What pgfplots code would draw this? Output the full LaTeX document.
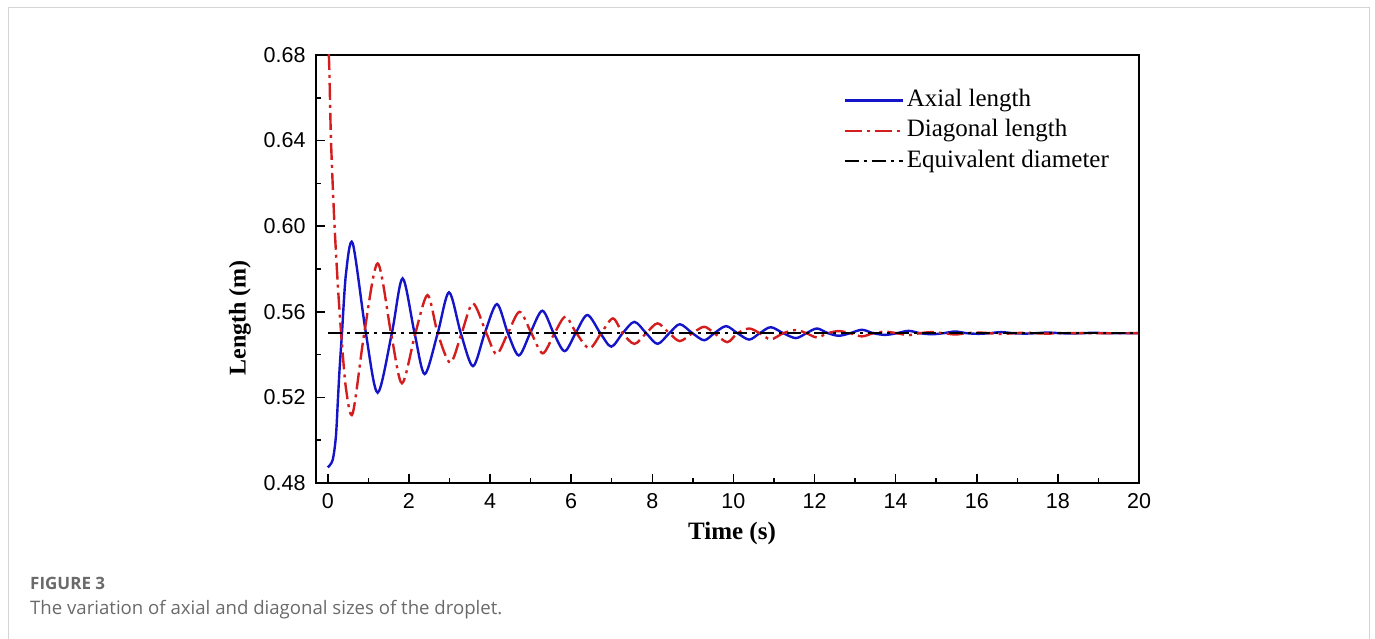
\documentclass[border=0pt]{standalone}
\usepackage{pgfplots}
\pgfplotsset{compat=1.18}
\usepackage{fontspec}
\setmainfont{Liberation Serif}
\newfontfamily\arial{Liberation Sans}
\newfontfamily\capfont{Open Sans}
\definecolor{cblue}{HTML}{1414C8}
\definecolor{cred}{HTML}{D41E1E}
\definecolor{capgray}{HTML}{6A6A6A}
\definecolor{framegray}{HTML}{D4D4D4}
\begin{document}
\begin{tikzpicture}[x=1pt,y=1pt]
\useasboundingbox (0,0) rectangle (1375,639);
\draw[framegray,line width=1pt] (8,-5) -- (8,631) -- (1369,631) -- (1369,-5);
\begin{axis}[
  at={(316pt,156pt)}, anchor=south west,
  scale only axis, width=823pt, height=428pt,
  xmin=-0.29, xmax=20, ymin=0.48, ymax=0.68,
  xtick={0,2,4,6,8,10,12,14,16,18,20},
  ytick={0.48,0.52,0.56,0.60,0.64,0.68},
  minor x tick num=1, minor y tick num=1,
  tick align=inside, xtick pos=bottom, ytick pos=left,
  major tick length=9pt, minor tick length=5pt,
  every tick/.style={black, line width=1.5pt},
  axis line style={line width=1.8pt},
  tick label style={font=\arial\fontsize{21.5}{25}\selectfont},
  xticklabel style={yshift=-7pt},
  yticklabel style={xshift=-7pt, /pgf/number format/fixed, /pgf/number format/precision=2, /pgf/number format/fixed zerofill},
  /pgf/number format/assume math mode=true,
  scaled y ticks=false,
  legend style={at={(rel axis cs:0.637,0.927)}, anchor=north west, draw=none, fill=none,
    font=\fontsize{25}{30}\selectfont, row sep=6.5pt,
    nodes={inner ysep=0pt, inner xsep=3pt, text height=18pt, text depth=6pt}},
  legend cell align=left,
  legend image code/.code={\draw[#1] (0pt,0pt) -- (58pt,0pt);},
]
\addplot[cblue, line width=2.4pt, smooth] coordinates {
(0,0.4873) (0.12,0.4907) (0.2,0.5016) (0.25,0.5188) (0.29,0.5328) (0.35,0.55) (0.45,0.578) (0.615,0.592) (0.94,0.55) (1.23,0.5222) (1.58,0.55) (1.845,0.5756) (2.14,0.55) (2.39,0.5309) (2.71,0.55) (2.99,0.5691) (3.28,0.55) (3.58,0.5346) (3.87,0.55) (4.17,0.5636) (4.44,0.55) (4.71,0.5396) (4.99,0.55) (5.29,0.5605) (5.57,0.55) (5.84,0.5416) (6.11,0.55) (6.40,0.5585) (6.72,0.55) (6.99,0.5437) (7.27,0.55) (7.56,0.5553) (7.85,0.55) (8.13,0.545) (8.42,0.55) (8.68,0.5542) (8.99,0.55) (9.28,0.5467) (9.53,0.55) (9.82,0.5533) (10.1,0.55) (10.39,0.547) (10.65,0.55) (10.92,0.5528) (11.23,0.55) (11.54,0.5477) (11.8,0.55) (12.06,0.5522) (12.33,0.55) (12.6,0.5488) (12.88,0.55) (13.17,0.5516) (13.45,0.55) (13.74,0.5492) (14.03,0.55) (14.32,0.5511) (14.6,0.55) (14.89,0.5495) (15.18,0.55) (15.47,0.5508) (15.75,0.55) (16.04,0.5497) (16.32,0.55) (16.6,0.5505) (16.9,0.55) (17.2,0.5498) (17.45,0.55) (17.75,0.5503) (18.05,0.55) (18.3,0.5499) (18.6,0.55) (18.9,0.5502) (19.2,0.55) (20,0.55)
};
\addlegendentry{Axial length}
\addplot[cred, line width=2.4pt, smooth, dash pattern=on 17pt off 5pt on 3pt off 5pt] coordinates {
(0,0.695) (0.04,0.672) (0.08,0.64) (0.16,0.603) (0.25,0.572) (0.33,0.55) (0.45,0.524) (0.615,0.5125) (0.9,0.55) (1.23,0.5826) (1.56,0.55) (1.83,0.5266) (2.16,0.55) (2.46,0.5678) (2.71,0.55) (3.02,0.5362) (3.30,0.55) (3.58,0.5639) (3.91,0.55) (4.16,0.5402) (4.44,0.55) (4.73,0.56) (5.02,0.55) (5.30,0.5406) (5.59,0.55) (5.86,0.5577) (6.13,0.55) (6.45,0.5429) (6.74,0.55) (7.03,0.5569) (7.27,0.55) (7.56,0.545) (7.85,0.55) (8.13,0.5546) (8.42,0.55) (8.68,0.5463) (8.99,0.55) (9.28,0.553) (9.53,0.55) (9.85,0.5458) (10.1,0.55) (10.39,0.5522) (10.65,0.55) (10.92,0.5471) (11.23,0.55) (11.54,0.5515) (11.8,0.55) (12.06,0.548) (12.33,0.55) (12.6,0.551) (12.88,0.55) (13.17,0.5485) (13.45,0.55) (13.74,0.5507) (14.03,0.55) (14.32,0.5491) (14.6,0.55) (14.89,0.5505) (15.18,0.55) (15.47,0.5494) (15.75,0.55) (16.04,0.5503) (16.32,0.55) (16.6,0.5496) (16.9,0.55) (17.2,0.5502) (17.45,0.55) (17.75,0.5498) (18.05,0.55) (18.3,0.5501) (18.6,0.55) (20,0.55)
};
\addlegendentry{Diagonal length}
\addplot[black, line width=2pt, dash pattern=on 14pt off 5pt on 3pt off 5pt] coordinates {(0,0.55) (20,0.55)};
\addlegendentry{Equivalent diameter}
\end{axis}
\node[font=\bfseries\fontsize{25}{30}\selectfont] at (732,106) {Time (s)};
\node[font=\bfseries\fontsize{24}{30}\selectfont, rotate=90] at (240,321) {Length (m)};
\node[anchor=base west, font=\capfont\bfseries\fontsize{17}{20}\selectfont, text=capgray, inner sep=0pt] at (30,49) {FIGURE 3};
\node[anchor=base west, font=\capfont\fontsize{18.6}{22}\selectfont, text=capgray, inner sep=0pt] at (30,24) {The variation of axial and diagonal sizes of the droplet.};
\end{tikzpicture}
\end{document}
